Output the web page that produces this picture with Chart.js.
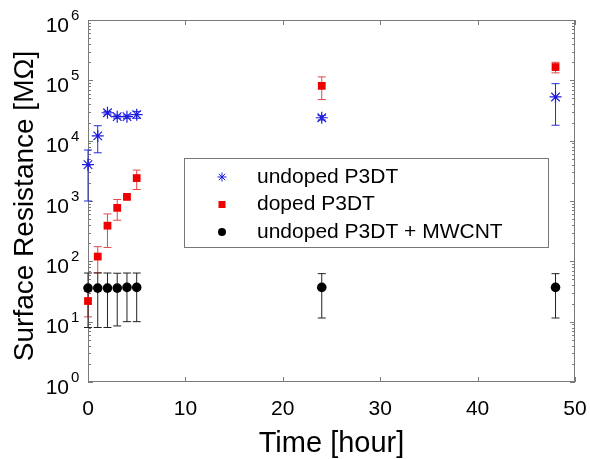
<!DOCTYPE html>
<html>
<head>
<meta charset="utf-8">
<script src="https://cdn.jsdelivr.net/npm/chart.js@4.4.0/dist/chart.umd.min.js"></script>
<style>
    html, body { margin: 0; padding: 0; background: #fff; }
</style>
</head>
<body>
<canvas id="resistanceChart" width="590" height="459"></canvas>
<script>
// values
var times = [0, 1, 2, 3, 4, 5, 24, 48];

var undopedValues = [4000, 12000, 29000, 25000, 25000, 27000, 24000, 53000];
var undopedErrors = [3000, 5700, 1500, 1500, 1500, 3500, 2000, 35000];

var dopedValues = [22, 120, 390, 770, 1170, 2400, 81000, 166000];
var dopedErrors = [10, 55, 220, 290, 100, 850, 33000, 33000];

var mwcntValues = [36, 36, 36, 36, 37, 37, 37, 37];
var mwcntErrors = [28, 28, 28, 27.5, 27, 27, 25.5, 25.5];

var seriesLabels = ['undoped P3DT', 'doped P3DT', 'undoped P3DT + MWCNT'];
var xTicks = [0, 10, 20, 30, 40, 50];
var yTicks = [1, 10, 100, 1000, 10000, 100000, 1000000];

var fontFamily = "'Liberation Sans', Arial, sans-serif";

function toPoints(values) {
    return times.map(function (t, i) { return { x: t, y: values[i] }; });
}

// vertical error bars with small caps, drawn under the markers
var errorBarPlugin = {
    id: 'errorBars',
    beforeDatasetsDraw: function (chart) {
        var ctx = chart.ctx;
        var xs = chart.scales.x, ys = chart.scales.y;
        chart.data.datasets.forEach(function (ds) {
            if (!ds.errors) return;
            ctx.save();
            ctx.strokeStyle = ds.errorColor;
            ctx.lineWidth = 1;
            ds.data.forEach(function (p, i) {
                var e = ds.errors[i];
                var px = xs.getPixelForValue(p.x);
                var top = ys.getPixelForValue(p.y + e);
                var bot = ys.getPixelForValue(Math.max(p.y - e, 1));
                ctx.beginPath();
                ctx.moveTo(px, top); ctx.lineTo(px, bot);
                ctx.moveTo(px - 4, top); ctx.lineTo(px + 4, top);
                ctx.moveTo(px - 4, bot); ctx.lineTo(px + 4, bot);
                ctx.stroke();
            });
            ctx.restore();
        });
    }
};

// frame, inward ticks and the axis texts
var framePlugin = {
    id: 'frame',
    beforeDatasetsDraw: function (chart) {
        var ctx = chart.ctx;
        var a = chart.chartArea;
        var xs = chart.scales.x, ys = chart.scales.y;
        ctx.save();
        ctx.strokeStyle = '#7a7a7a';
        ctx.lineWidth = 1;
        ctx.strokeRect(a.left + 0.5, a.top + 0.5, a.right - a.left - 1, a.bottom - a.top - 1);

        ctx.beginPath();
        xTicks.forEach(function (v) {
            var px = Math.round(xs.getPixelForValue(v)) + 0.5;
            ctx.moveTo(px, a.bottom); ctx.lineTo(px, a.bottom - 5);
            ctx.moveTo(px, a.top); ctx.lineTo(px, a.top + 5);
        });
        for (var k = 0; k < 6; k++) {
            for (var m = 1; m <= 9; m++) {
                var py = Math.round(ys.getPixelForValue(m * Math.pow(10, k))) + 0.5;
                var len = m === 1 ? 5 : 3;
                ctx.moveTo(a.left, py); ctx.lineTo(a.left + len, py);
                ctx.moveTo(a.right, py); ctx.lineTo(a.right - len, py);
            }
        }
        ctx.stroke();

        ctx.fillStyle = '#000';
        ctx.font = '21px ' + fontFamily;
        ctx.textAlign = 'center';
        ctx.textBaseline = 'middle';
        xTicks.forEach(function (v) {
            ctx.fillText(String(v), xs.getPixelForValue(v), 409);
        });

        yTicks.forEach(function (v) {
            var py = ys.getPixelForValue(v);
            var exp = Math.round(Math.log10(v));
            ctx.font = '21px ' + fontFamily;
            ctx.textAlign = 'right';
            ctx.fillText('10', 69, py + 6);
            ctx.font = '15px ' + fontFamily;
            ctx.textAlign = 'left';
            ctx.fillText(String(exp), 71, py - 4);
        });

        ctx.font = '29px ' + fontFamily;
        ctx.textAlign = 'center';
        ctx.textBaseline = 'alphabetic';
        ctx.fillText('Time [hour]', (a.left + a.right) / 2, 452);

        ctx.font = '28px ' + fontFamily;
        ctx.translate(33, (a.top + a.bottom) / 2 + 5);
        ctx.rotate(-Math.PI / 2);
        ctx.fillText('Surface Resistance [M\u03A9]', 0, 0);
        ctx.restore();
    }
};

function drawLegendMarker(ctx, style, color, x, y) {
    ctx.save();
    ctx.fillStyle = color;
    ctx.strokeStyle = color;
    ctx.lineWidth = 1;
    if (style === 'star') {
        var r = 4.5;
        ctx.beginPath();
        ctx.moveTo(x - r, y); ctx.lineTo(x + r, y);
        ctx.moveTo(x, y - r); ctx.lineTo(x, y + r);
        var d = r * Math.SQRT1_2;
        ctx.moveTo(x - d, y - d); ctx.lineTo(x + d, y + d);
        ctx.moveTo(x - d, y + d); ctx.lineTo(x + d, y - d);
        ctx.stroke();
    } else if (style === 'rect') {
        ctx.fillRect(x - 3.5, y - 3.5, 7, 7);
    } else {
        ctx.beginPath();
        ctx.arc(x, y, 4, 0, Math.PI * 2);
        ctx.fill();
    }
    ctx.restore();
}

// boxed legend inside the plot, like the original figure
var boxLegendPlugin = {
    id: 'boxLegend',
    afterDraw: function (chart) {
        var ctx = chart.ctx;
        ctx.save();
        ctx.fillStyle = '#fff';
        ctx.fillRect(184.5, 158.5, 364, 89);
        ctx.strokeStyle = '#777';
        ctx.lineWidth = 1;
        ctx.strokeRect(184.5, 158.5, 364, 89);
        ctx.font = '21px ' + fontFamily;
        ctx.textAlign = 'left';
        ctx.textBaseline = 'middle';
        chart.data.datasets.forEach(function (ds, i) {
            var y = 177 + i * 27.5;
            drawLegendMarker(ctx, ds.pointStyle, ds.backgroundColor, 222, y);
            ctx.fillStyle = '#000';
            ctx.fillText(ds.label, 257, y);
        });
        ctx.restore();
    }
};

var ctx = document.getElementById('resistanceChart');

new Chart(ctx, {
    type: 'scatter',
    data: {
        datasets: [{
            label: seriesLabels[0],
            data: toPoints(undopedValues),
            errors: undopedErrors,
            errorColor: '#2b2bd6',
            pointStyle: 'star',
            pointRadius: 6,
            borderWidth: 1.2,
            borderColor: '#1c1ce0',
            backgroundColor: '#1c1ce0',
            clip: false
        }, {
            label: seriesLabels[1],
            data: toPoints(dopedValues),
            errors: dopedErrors,
            errorColor: '#e04848',
            pointStyle: 'rect',
            pointRadius: 5.5,
            borderWidth: 0,
            borderColor: '#ee0000',
            backgroundColor: '#ee0000',
            clip: false
        }, {
            label: seriesLabels[2],
            data: toPoints(mwcntValues),
            errors: mwcntErrors,
            errorColor: '#222',
            pointStyle: 'circle',
            pointRadius: 4.8,
            borderWidth: 0,
            borderColor: '#000',
            backgroundColor: '#000',
            clip: false
        }]
    },
    options: {
        responsive: false,
        animation: false,
        layout: {
            padding: { left: 88, right: 15, top: 20, bottom: 77 }
        },
        scales: {
            x: {
                type: 'linear',
                min: 0,
                max: 50,
                display: false
            },
            y: {
                type: 'logarithmic',
                min: 1,
                max: 1000000,
                display: false
            }
        },
        plugins: {
            legend: { display: false },
            tooltip: { enabled: false }
        }
    },
    plugins: [framePlugin, errorBarPlugin, boxLegendPlugin]
});
</script>
</body>
</html>
